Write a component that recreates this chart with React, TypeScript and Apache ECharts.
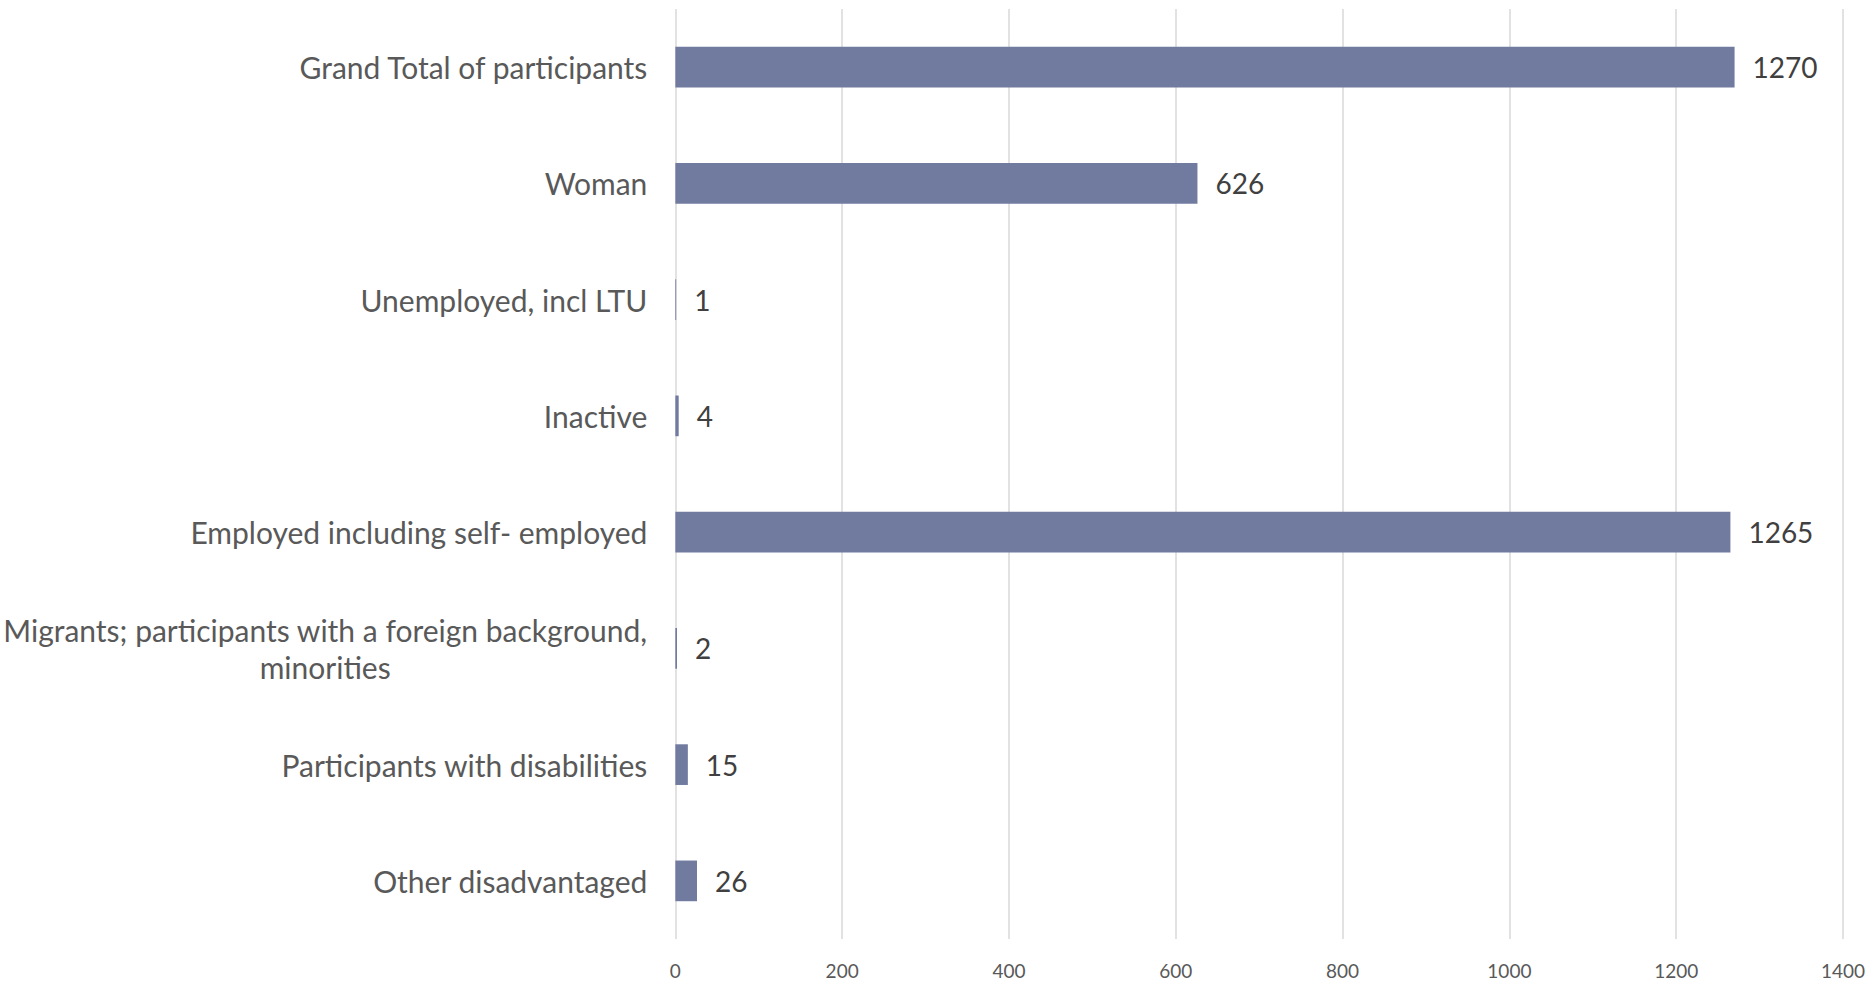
import React, { useEffect, useRef } from "react";
import * as echarts from "echarts";

const categories = [
  "Grand Total of participants",
  "Woman",
  "Unemployed, incl LTU",
  "Inactive",
  "Employed including self- employed",
  "Migrants; participants with a foreign background, minorities",
  "Participants with disabilities",
  "Other disadvantaged",
];
const values = [1270, 626, 1, 4, 1265, 2, 15, 26];
const axisMin = 0;
const axisMax = 1400;
const axisInterval = 200;

const FONT = "Lato, 'Open Sans', sans-serif";

export default function App() {
  const ref = useRef<HTMLDivElement>(null);
  useEffect(() => {
    if (!ref.current) return;
    const chart = echarts.init(ref.current, undefined, { renderer: "svg" });
    chart.setOption({
      animation: false,
      backgroundColor: "#ffffff",
      grid: { left: 673, right: 29, top: 9, bottom: 42, containLabel: false },
      xAxis: {
        type: "value",
        min: axisMin,
        max: axisMax,
        interval: axisInterval,
        axisLine: { show: false },
        axisTick: { show: false },
        splitLine: { show: true, lineStyle: { color: "#d9d9d9", width: 1.5 } },
        axisLabel: {
          color: "#595959",
          fontSize: 19,
          fontFamily: FONT,
          margin: 22,
          formatter: (v: number) => String(v),
        },
      },
      yAxis: {
        type: "category",
        data: categories,
        inverse: true,
        axisLine: { show: false },
        axisTick: { show: false },
        splitLine: { show: false },
        axisLabel: {
          color: "#595959",
          fontSize: 30,
          fontFamily: FONT,
          margin: 28,
          lineHeight: 37,
          formatter: (v: string) => {
            const idx = v.indexOf("background, ");
            if (idx >= 0) {
              const first = v.slice(0, idx + "background,".length);
              const second = v.slice(idx + "background, ".length);
              return `{c|${first}}\n{c|${second}}`;
            }
            return v;
          },
          rich: {
            c: {
              align: "center",
              color: "#595959",
              fontSize: 30,
              fontFamily: FONT,
              lineHeight: 37,
            },
          },
        },
      },
      series: [
        {
          type: "bar",
          data: values,
          barCategoryGap: "65%",
          itemStyle: { color: "#717ba0" },
          label: {
            show: true,
            position: "right",
            distance: 18,
            color: "#404040",
            fontSize: 28,
            fontFamily: FONT,
          },
        },
      ],
    });
    return () => chart.dispose();
  }, []);
  return (
    <div
      ref={ref}
      style={{ position: "fixed", left: 0, top: 0, width: 1872, height: 981, background: "#fff" }}
    />
  );
}
